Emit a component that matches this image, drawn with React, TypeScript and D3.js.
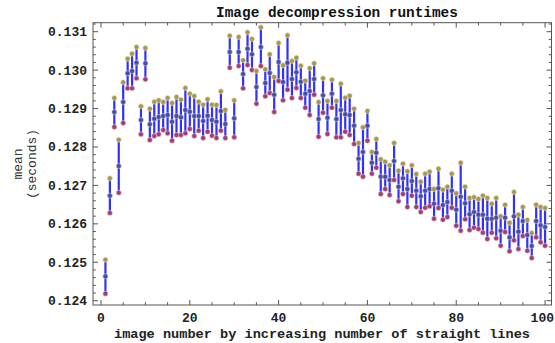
import React from "react";
import * as d3 from "d3";

const imageNumbers = [
  1, 2, 3, 4, 5, 6, 7, 8, 9, 10, 11, 12, 13, 14, 15, 16, 17, 18, 19, 20,
  21, 22, 23, 24, 25, 26, 27, 28, 29, 30, 31, 32, 33, 34, 35, 36, 37, 38, 39, 40,
  41, 42, 43, 44, 45, 46, 47, 48, 49, 50, 51, 52, 53, 54, 55, 56, 57, 58, 59, 60,
  61, 62, 63, 64, 65, 66, 67, 68, 69, 70, 71, 72, 73, 74, 75, 76, 77, 78, 79, 80,
  81, 82, 83, 84, 85, 86, 87, 88, 89, 90, 91, 92, 93, 94, 95, 96, 97, 98, 99, 100,
];

const means = [
  0.124634, 0.126733, 0.12891, 0.127505, 0.12917, 0.129917, 0.129977, 0.130193, 0.128702, 0.130177,
  0.12859, 0.128736, 0.12878, 0.128806, 0.128832, 0.128658, 0.128806, 0.128772, 0.128963, 0.128918,
  0.128806, 0.128806, 0.128676, 0.128814, 0.128702, 0.128658, 0.128936, 0.128598, 0.130472, 0.128746,
  0.130472, 0.129899, 0.130558, 0.130412, 0.129561, 0.130602, 0.129665, 0.129925, 0.129361, 0.130212,
  0.129691, 0.130193, 0.129769, 0.129943, 0.129699, 0.129387, 0.129457, 0.129769, 0.128728, 0.129345,
  0.128762, 0.129387, 0.128728, 0.128963, 0.128851, 0.128832, 0.128554, 0.127695, 0.12787, 0.128554,
  0.127591, 0.127851, 0.127227, 0.127227, 0.127141, 0.127635, 0.126967, 0.127185, 0.126907, 0.127115,
  0.126863, 0.126717, 0.126863, 0.126907, 0.126524, 0.126925, 0.12649, 0.126569, 0.126863, 0.126368,
  0.126706, 0.126535, 0.126248, 0.126308, 0.126238, 0.126238, 0.126134, 0.126134, 0.12616, 0.125822,
  0.12616, 0.12565, 0.126196, 0.125796, 0.126074, 0.12571, 0.125424, 0.126074, 0.125962, 0.125918,
];

const uppers = [
  0.125067, 0.127185, 0.129275, 0.12819, 0.129683, 0.130297, 0.130428, 0.130602, 0.129059, 0.130576,
  0.128996, 0.129179, 0.129214, 0.12917, 0.129275, 0.129145, 0.129301, 0.129231, 0.129535, 0.129387,
  0.129327, 0.129179, 0.1291, 0.12924, 0.1291, 0.129093, 0.129449, 0.128963, 0.130896, 0.129214,
  0.130862, 0.130256, 0.130984, 0.13081, 0.129977, 0.131114, 0.130022, 0.130412, 0.129821, 0.130706,
  0.130126, 0.130906, 0.130238, 0.130323, 0.130115, 0.129725, 0.130048, 0.130177, 0.12917, 0.129787,
  0.129197, 0.129751, 0.129197, 0.129647, 0.129283, 0.129335, 0.128996, 0.128104, 0.128512, 0.128936,
  0.12787, 0.128208, 0.12768, 0.127617, 0.127524, 0.128104, 0.127383, 0.127565, 0.127367, 0.127524,
  0.127297, 0.127097, 0.127305, 0.127357, 0.126907, 0.127435, 0.126889, 0.126967, 0.127305, 0.126795,
  0.127591, 0.126967, 0.126673, 0.126691, 0.126647, 0.126733, 0.126673, 0.126524, 0.126673, 0.126196,
  0.126498, 0.12603, 0.126829, 0.126238, 0.126438, 0.1261, 0.125762, 0.126498, 0.126438, 0.126412,
];

const lowers = [
  0.124183, 0.126282, 0.12852, 0.12681, 0.128624, 0.129527, 0.129527, 0.129787, 0.12833, 0.129761,
  0.128182, 0.128286, 0.12833, 0.128442, 0.128355, 0.128164, 0.128312, 0.128312, 0.128355, 0.128468,
  0.128286, 0.128424, 0.128234, 0.128398, 0.128294, 0.128234, 0.128424, 0.128234, 0.130063, 0.128252,
  0.130107, 0.129527, 0.130133, 0.130003, 0.129126, 0.130107, 0.129319, 0.129405, 0.12891, 0.129717,
  0.129214, 0.129491, 0.129275, 0.129535, 0.129275, 0.129022, 0.128832, 0.129361, 0.128268, 0.128892,
  0.128338, 0.129022, 0.128252, 0.128252, 0.128398, 0.128312, 0.128078, 0.127305, 0.127227, 0.128164,
  0.127305, 0.127461, 0.126777, 0.126907, 0.126751, 0.127141, 0.126587, 0.126777, 0.126438, 0.126733,
  0.126438, 0.126308, 0.12642, 0.126457, 0.126134, 0.126412, 0.126108, 0.126178, 0.12642, 0.125952,
  0.125822, 0.126118, 0.12584, 0.1259, 0.125866, 0.12577, 0.125606, 0.12577, 0.125624, 0.125431,
  0.125788, 0.125286, 0.125572, 0.125346, 0.125684, 0.125301, 0.125111, 0.12565, 0.12552, 0.125431,
];

const xTickValues = [0, 20, 40, 60, 80, 100];
const xTickLabels = ["0", "20", "40", "60", "80", "100"];
const yTickValues = [0.124, 0.125, 0.126, 0.127, 0.128, 0.129, 0.13, 0.131];
const yTickLabels = ["0.124", "0.125", "0.126", "0.127", "0.128", "0.129", "0.130", "0.131"];

const title = "Image decompression runtimes";
const xTitle = "image number by increasing number of straight lines";
const yTitle1 = "mean";
const yTitle2 = "(seconds)";

const W = 555;
const H = 343;
const L = 93, R = 551.5, T = 22.7, B = 305;

export default function App() {
  const x = d3.scaleLinear().domain([-1.8, 101.45]).range([L, R]);
  const y = d3.scaleLinear().domain([0.123888, 0.131234]).range([B, T]);

  const xMinor = d3.range(0, 101, 5).filter((v) => v % 20 !== 0);
  const yMinor = d3.range(0.1238, 0.1313, 0.0002).filter(
    (v) => y(v) <= B && y(v) >= T && Math.abs(Math.round(v * 1000) - v * 1000) > 1e-6
  );

  const mono = "'Liberation Mono', 'DejaVu Sans Mono', monospace";
  const frameColor = "#555";
  const majorLen = 5;
  const minorLen = 2.8;

  return (
    <svg
      width={W}
      height={H}
      style={{ position: "absolute", left: 0, top: 0, background: "#fff" }}
    >
      <text x={337} y={17} textAnchor="middle" fontFamily={mono} fontWeight="bold" fontSize={14.4} fill="#111">
        {title}
      </text>

      <rect x={L} y={T} width={R - L} height={B - T} fill="none" stroke={frameColor} strokeWidth={1} />

      {xTickValues.map((v) => (
        <g key={"xt" + v}>
          <line x1={x(v)} x2={x(v)} y1={B} y2={B - majorLen} stroke={frameColor} />
          <line x1={x(v)} x2={x(v)} y1={T} y2={T + majorLen} stroke={frameColor} />
        </g>
      ))}
      {xMinor.map((v) => (
        <g key={"xm" + v}>
          <line x1={x(v)} x2={x(v)} y1={B} y2={B - minorLen} stroke={frameColor} />
          <line x1={x(v)} x2={x(v)} y1={T} y2={T + minorLen} stroke={frameColor} />
        </g>
      ))}
      {xTickValues.map((v, i) => {
        const last = i === xTickValues.length - 1;
        return (
          <text
            key={"xl" + v}
            x={last ? W - 1 : x(v)}
            y={322}
            textAnchor={last ? "end" : "middle"}
            fontFamily={mono}
            fontWeight="bold"
            fontSize={13}
            fill="#222"
          >
            {xTickLabels[i]}
          </text>
        );
      })}

      {yTickValues.map((v) => (
        <g key={"yt" + v}>
          <line x1={L} x2={L + majorLen} y1={y(v)} y2={y(v)} stroke={frameColor} />
          <line x1={R} x2={R - majorLen} y1={y(v)} y2={y(v)} stroke={frameColor} />
        </g>
      ))}
      {yMinor.map((v, i) => (
        <g key={"ym" + i}>
          <line x1={L} x2={L + minorLen} y1={y(v)} y2={y(v)} stroke={frameColor} />
          <line x1={R} x2={R - minorLen} y1={y(v)} y2={y(v)} stroke={frameColor} />
        </g>
      ))}
      {yTickValues.map((v, i) => (
        <text key={"yl" + v} x={87} y={y(v) + 4.5} textAnchor="end" fontFamily={mono} fontWeight="bold" fontSize={13} fill="#222">
          {yTickLabels[i]}
        </text>
      ))}

      <text x={322} y={338} textAnchor="middle" fontFamily={mono} fontWeight="bold" fontSize={13.6} fill="#222">
        {xTitle}
      </text>
      <g transform="translate(22,164) rotate(-90)">
        <text x={0} y={0} textAnchor="middle" fontFamily={mono} fontSize={13} fill="#333">
          {yTitle1}
        </text>
        <text x={0} y={14} textAnchor="middle" fontFamily={mono} fontSize={13} fill="#333">
          {yTitle2}
        </text>
      </g>

      {imageNumbers.map((n, i) => (
        <line
          key={"bar" + n}
          x1={x(n)}
          x2={x(n)}
          y1={y(uppers[i])}
          y2={y(lowers[i])}
          stroke="#3030ff"
          strokeWidth={2.2}
        />
      ))}
      {imageNumbers.map((n, i) => (
        <g key={"pts" + n}>
          <circle cx={x(n)} cy={y(uppers[i])} r={2.5} fill="#a8974a" stroke="#e8e2c8" strokeWidth={0.6} />
          <circle cx={x(n)} cy={y(lowers[i])} r={2.5} fill="#a23e6c" stroke="#e8c8d6" strokeWidth={0.6} />
          <circle cx={x(n)} cy={y(means[i])} r={2.5} fill="#4c4c9c" stroke="#c8c8e8" strokeWidth={0.6} />
        </g>
      ))}
    </svg>
  );
}
